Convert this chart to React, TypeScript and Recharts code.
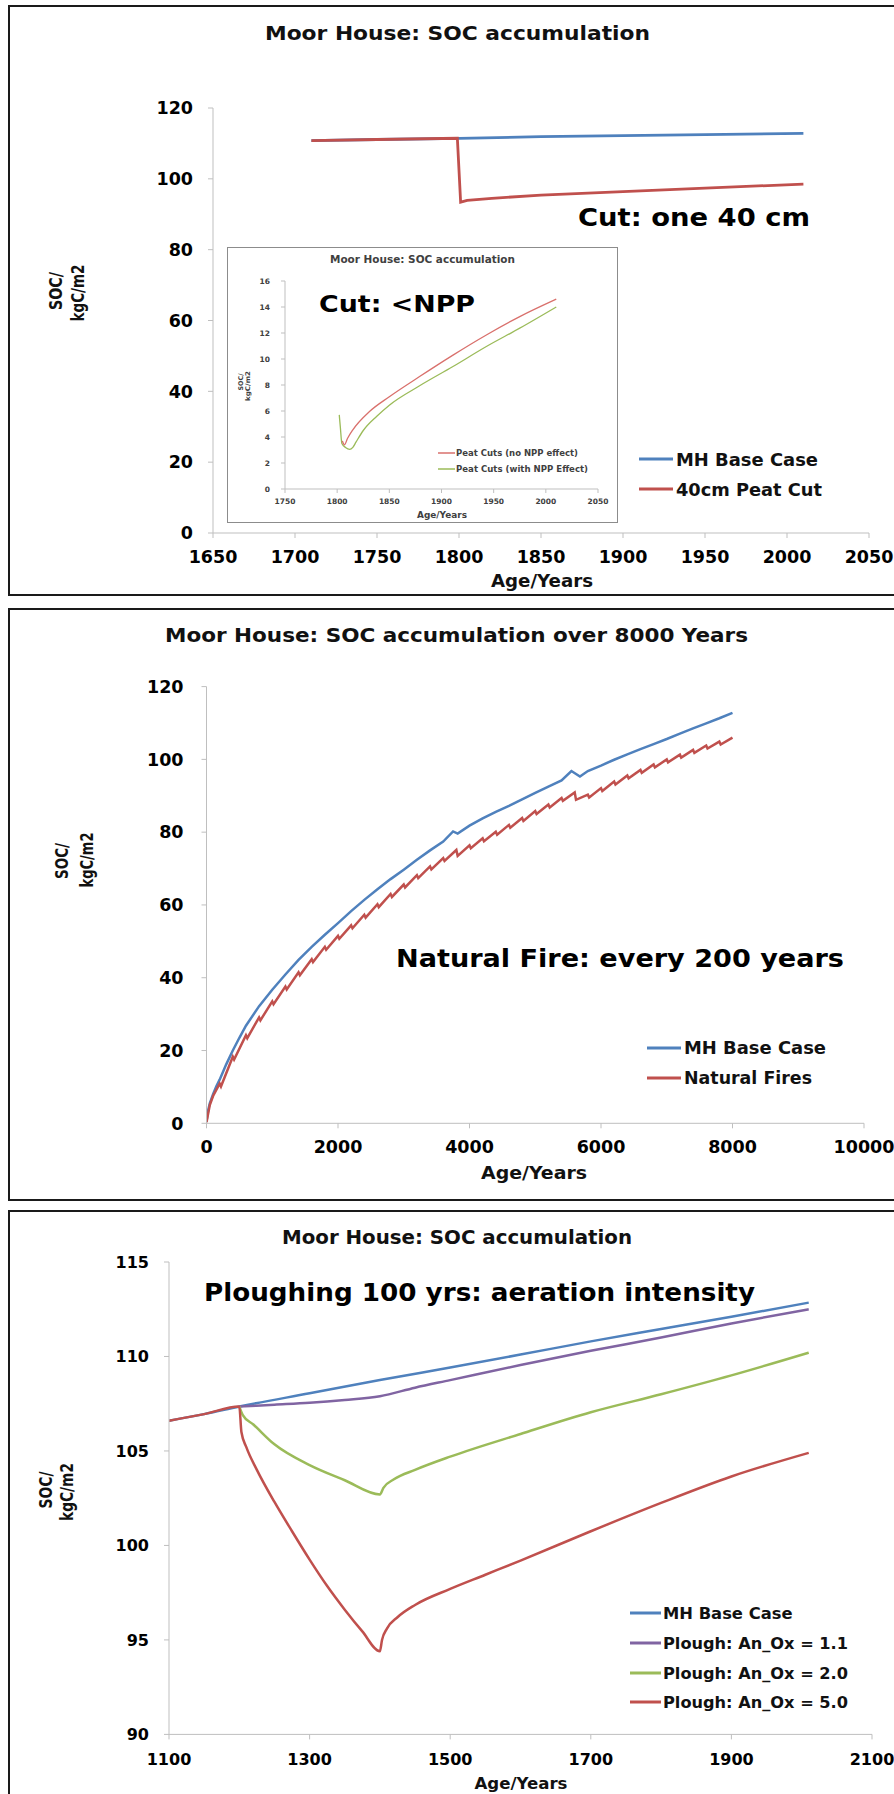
import React from 'react';
import { LineChart, Line, XAxis, YAxis } from 'recharts';

// ---- panel 1: single 40 cm peat cut ----
const cutBaseCase = [[1710, 110.8], [1750, 111.1], [1800, 111.45], [1850, 111.9], [1900, 112.2], [1950, 112.5], [2010, 112.85]];
const cut40cm = [[1710, 110.8], [1750, 111.1], [1799, 111.45], [1801, 93.4], [1805, 93.9], [1820, 94.5], [1850, 95.4], [1900, 96.4], [1950, 97.4], [2010, 98.5]];
const cutXTicks = [1650, 1700, 1750, 1800, 1850, 1900, 1950, 2000, 2050];
const cutYTicks = [0, 20, 40, 60, 80, 100, 120];

// inset: repeated cuts < NPP
const insetNoNpp = [[1805, 3.7], [1807, 3.4], [1810, 3.9], [1815, 4.55], [1831, 5.96], [1850, 7.1], [1879, 8.65], [1911, 10.3], [1943, 11.85], [1975, 13.26], [2010, 14.6]];
const insetWithNpp = [[1802, 5.7], [1803, 4.8], [1804.5, 3.5], [1808, 3.2], [1812, 3.05], [1815, 3.2], [1818, 3.6], [1825, 4.5], [1838, 5.6], [1850, 6.45], [1879, 7.94], [1911, 9.42], [1943, 10.96], [1975, 12.37], [2010, 14.0]];
const insetXTicks = [1750, 1800, 1850, 1900, 1950, 2000, 2050];
const insetYTicks = [0, 2, 4, 6, 8, 10, 12, 14, 16];

// ---- panel 2: 8000 years, natural fires ----
const fireBaseCase = [[0, 0.5], [25, 3.5], [50, 5.5], [100, 8], [150, 10.2], [200, 12.0], [300, 16.2], [400, 20.0], [500, 23.5], [600, 26.8], [800, 32.2], [1000, 36.7], [1200, 40.9], [1400, 44.9], [1600, 48.5], [1800, 51.8], [2000, 55.0], [2200, 58.3], [2400, 61.4], [2600, 64.3], [2800, 67.1], [3000, 69.7], [3200, 72.4], [3400, 75.0], [3600, 77.4], [3750, 80.2], [3820, 79.6], [4000, 81.8], [4200, 83.8], [4400, 85.6], [4600, 87.2], [4800, 89.0], [5000, 90.8], [5200, 92.5], [5400, 94.2], [5550, 96.8], [5680, 95.3], [5800, 96.8], [6000, 98.3], [6200, 99.9], [6400, 101.4], [6600, 102.8], [6800, 104.2], [7000, 105.6], [7200, 107.1], [7400, 108.5], [7600, 109.9], [7800, 111.3], [8000, 112.8]];
const naturalFires = [[0, 0.3], [50, 5], [100, 7.5], [200, 10.9], [220, 10.1], [400, 18.3], [420, 17.5], [600, 24.2], [620, 23.4], [800, 29.1], [820, 28.3], [1000, 33.5], [1020, 32.7], [1200, 37.6], [1220, 36.8], [1400, 41.5], [1420, 40.7], [1600, 45.1], [1620, 44.3], [1800, 48.5], [1820, 47.7], [2000, 51.5], [2020, 50.7], [2200, 54.4], [2220, 53.6], [2400, 57.3], [2420, 56.5], [2600, 60.2], [2620, 59.4], [2800, 63.0], [2820, 62.2], [3000, 65.6], [3020, 64.8], [3200, 68.2], [3220, 67.4], [3400, 70.6], [3420, 69.8], [3600, 72.9], [3620, 72.1], [3800, 75.1], [3820, 73.5], [4000, 76.4], [4020, 75.6], [4200, 78.3], [4220, 77.5], [4400, 80.1], [4420, 79.3], [4600, 82.0], [4620, 81.2], [4800, 83.9], [4820, 83.1], [5000, 85.8], [5020, 85.0], [5200, 87.6], [5220, 86.8], [5400, 89.4], [5420, 88.6], [5600, 90.9], [5620, 88.9], [5800, 90.3], [5820, 89.5], [6000, 92.1], [6020, 91.3], [6200, 93.9], [6220, 93.1], [6400, 95.6], [6420, 94.8], [6600, 97.1], [6620, 96.3], [6800, 98.6], [6820, 97.8], [7000, 100.0], [7020, 99.2], [7200, 101.3], [7220, 100.5], [7400, 102.6], [7420, 101.8], [7600, 103.8], [7620, 103.0], [7800, 104.9], [7820, 104.1], [8000, 106.0]];
const fireXTicks = [0, 2000, 4000, 6000, 8000, 10000];
const fireYTicks = [0, 20, 40, 60, 80, 100, 120];

// ---- panel 3: ploughing 100 years ----
const ploughBaseCase = [[1100, 106.6], [1150, 106.95], [1200, 107.35], [1300, 108.05], [1400, 108.75], [1500, 109.42], [1600, 110.1], [1700, 110.8], [1800, 111.45], [1900, 112.1], [2010, 112.85]];
const ploughOx11 = [[1200, 107.35], [1250, 107.45], [1300, 107.55], [1350, 107.7], [1400, 107.9], [1450, 108.35], [1500, 108.75], [1600, 109.55], [1700, 110.3], [1800, 111.0], [1900, 111.75], [2010, 112.5]];
const ploughOx20 = [[1200, 107.35], [1205, 106.9], [1220, 106.4], [1250, 105.35], [1300, 104.25], [1350, 103.45], [1400, 102.7], [1405, 103.05], [1420, 103.5], [1450, 104.0], [1500, 104.7], [1600, 105.9], [1700, 107.05], [1800, 108.0], [1900, 109.0], [2010, 110.2]];
const ploughOx50 = [[1100, 106.6], [1150, 106.95], [1200, 107.35], [1203, 106.0], [1210, 105.2], [1225, 104.0], [1250, 102.3], [1275, 100.75], [1300, 99.25], [1325, 97.85], [1350, 96.6], [1375, 95.45], [1400, 94.4], [1403, 95.0], [1410, 95.6], [1425, 96.2], [1450, 96.85], [1500, 97.7], [1550, 98.45], [1600, 99.2], [1700, 100.75], [1800, 102.25], [1900, 103.65], [2010, 104.9]];
const ploughXTicks = [1100, 1300, 1500, 1700, 1900, 2100];
const ploughYTicks = [90, 95, 100, 105, 110, 115];

const BLUE = '#4F81BD';
const RED = '#C0504D';
const GREEN = '#9BBB59';
const PURPLE = '#8064A2';
const FONT = "'DejaVu Sans', sans-serif";
const AXIS = '#bfbfbf';

const pts = (arr) => arr.map(([x, y]) => ({ x, y }));

function T({ x, y, len, size, children, anchor = 'start', rot = false, fill = '#111' }) {
  return (
    <text
      x={x}
      y={y}
      fontSize={size}
      fontWeight={700}
      fontFamily={FONT}
      fill={fill}
      textAnchor={anchor}
      textLength={len}
      lengthAdjust="spacingAndGlyphs"
      transform={rot ? `rotate(-90 ${x} ${y})` : undefined}
    >
      {children}
    </text>
  );
}

function Swatch({ x1, x2, y, color, w = 3 }) {
  return <line x1={x1} x2={x2} y1={y} y2={y} stroke={color} strokeWidth={w} />;
}

const tickStyle = (size) => ({ fill: '#000', fontSize: size, fontWeight: 700, fontFamily: FONT });

const panelBox = (top, height) => ({
  position: 'absolute', left: 8, top, width: 900, height,
  border: '2px solid #1a1a1a', borderRight: 'none', boxSizing: 'border-box',
});

export default function App() {
  return (
    <div style={{ position: 'relative', width: 894, height: 1794, overflow: 'hidden', background: '#fff' }}>
      <style>{'body{margin:0}'}</style>
      <div style={panelBox(5, 591)} />
      <div style={panelBox(608, 593)} />
      <div style={panelBox(1210, 600)} />

      {/* panel 1 */}
      <div style={{ position: 'absolute', left: 0, top: 0 }}>
        <LineChart width={920} height={600} margin={{ top: 108, right: 51, bottom: 37, left: 153 }}>
          <XAxis type="number" dataKey="x" domain={[1650, 2050]} ticks={cutXTicks} interval={0} height={30}
            stroke={AXIS} tickSize={5} tickMargin={13} tick={tickStyle(17.5)} allowDataOverflow />
          <YAxis type="number" dataKey="y" domain={[0, 120]} ticks={cutYTicks} interval={0} width={60}
            stroke={AXIS} tickSize={5} tickMargin={15} tick={tickStyle(17.5)} allowDataOverflow />
          <Line data={pts(cutBaseCase)} dataKey="y" stroke={BLUE} strokeWidth={2.8} dot={false} isAnimationActive={false} />
          <Line data={pts(cut40cm)} dataKey="y" stroke={RED} strokeWidth={2.8} dot={false} isAnimationActive={false} />
        </LineChart>
      </div>

      {/* inset */}
      <div style={{ position: 'absolute', left: 227, top: 247, width: 391, height: 276, border: '1px solid #8c8c8c', boxSizing: 'border-box', background: '#fff' }}>
        <LineChart width={389} height={274} margin={{ top: 33, right: 19, bottom: 13, left: 27 }}>
          <XAxis type="number" dataKey="x" domain={[1750, 2050]} ticks={insetXTicks} interval={0} height={20}
            stroke={AXIS} tickSize={4} tickMargin={6} tick={{ ...tickStyle(7.5), fill: '#404040' }} allowDataOverflow />
          <YAxis type="number" dataKey="y" domain={[0, 16]} ticks={insetYTicks} interval={0} width={30}
            stroke={AXIS} tickSize={4} tickMargin={11} tick={{ ...tickStyle(7.5), fill: '#404040' }} allowDataOverflow />
          <Line type="monotone" data={pts(insetWithNpp)} dataKey="y" stroke={GREEN} strokeWidth={1.3} dot={false} isAnimationActive={false} />
          <Line type="monotone" data={pts(insetNoNpp)} dataKey="y" stroke="#D9706C" strokeWidth={1.3} dot={false} isAnimationActive={false} />
        </LineChart>
      </div>

      {/* panel 2 */}
      <div style={{ position: 'absolute', left: 0, top: 600 }}>
        <LineChart width={920} height={600} margin={{ top: 86.6, right: 56, bottom: 46.7, left: 146.5 }}>
          <XAxis type="number" dataKey="x" domain={[0, 10000]} ticks={fireXTicks} interval={0} height={30}
            stroke={AXIS} tickSize={5} tickMargin={12} tick={tickStyle(17.5)} allowDataOverflow />
          <YAxis type="number" dataKey="y" domain={[0, 120]} ticks={fireYTicks} interval={0} width={60}
            stroke={AXIS} tickSize={5} tickMargin={18} tick={tickStyle(17.5)} allowDataOverflow />
          <Line data={pts(fireBaseCase)} dataKey="y" stroke={BLUE} strokeWidth={2.5} dot={false} isAnimationActive={false} />
          <Line data={pts(naturalFires)} dataKey="y" stroke={RED} strokeWidth={2.5} dot={false} isAnimationActive={false} />
        </LineChart>
      </div>

      {/* panel 3 */}
      <div style={{ position: 'absolute', left: 0, top: 1200 }}>
        <LineChart width={920} height={594} margin={{ top: 62, right: 48, bottom: 29.6, left: 109 }}>
          <XAxis type="number" dataKey="x" domain={[1100, 2100]} ticks={ploughXTicks} interval={0} height={30}
            stroke={AXIS} tickSize={5} tickMargin={14} tick={tickStyle(16)} allowDataOverflow />
          <YAxis type="number" dataKey="y" domain={[90, 115]} ticks={ploughYTicks} interval={0} width={60}
            stroke={AXIS} tickSize={5} tickMargin={15} tick={tickStyle(16)} allowDataOverflow />
          <Line type="monotone" data={pts(ploughBaseCase)} dataKey="y" stroke={BLUE} strokeWidth={2.5} dot={false} isAnimationActive={false} />
          <Line type="monotone" data={pts(ploughOx11)} dataKey="y" stroke={PURPLE} strokeWidth={2.5} dot={false} isAnimationActive={false} />
          <Line type="monotone" data={pts(ploughOx20)} dataKey="y" stroke={GREEN} strokeWidth={2.5} dot={false} isAnimationActive={false} />
          <Line type="monotone" data={pts(ploughOx50)} dataKey="y" stroke={RED} strokeWidth={2.5} dot={false} isAnimationActive={false} />
        </LineChart>
      </div>

      {/* titles, axis labels, legends, notes */}
      <svg width={894} height={1794} style={{ position: 'absolute', left: 0, top: 0, pointerEvents: 'none' }}>
        {/* panel 1 */}
        <T x={265} y={40} len={385} size={20}>Moor House: SOC accumulation</T>
        <T x={578} y={226} len={232} size={24} fill="#000">Cut: one 40 cm</T>
        <Swatch x1={639} x2={673} y={459} color={BLUE} />
        <T x={676} y={466} len={142} size={17}>MH Base Case</T>
        <Swatch x1={639} x2={673} y={489} color={RED} />
        <T x={676} y={495.5} len={146} size={17}>40cm Peat Cut</T>
        <T x={542} y={587} len={102} size={18} anchor="middle">Age/Years</T>
        <T x={62} y={291} len={38} size={17} anchor="middle" rot>SOC/</T>
        <T x={84} y={293} len={57} size={17} anchor="middle" rot>kgC/m2</T>

        {/* inset */}
        <T x={330} y={263} len={185} size={10.5} fill="#404040">Moor House: SOC accumulation</T>
        <T x={319} y={311.5} len={156} size={23} fill="#000">Cut: &lt;NPP</T>
        <Swatch x1={438} x2={455} y={453} color="#D9706C" w={1.5} />
        <T x={456} y={456} len={122} size={8.5} fill="#404040">Peat Cuts (no NPP effect)</T>
        <Swatch x1={438} x2={455} y={469} color={GREEN} w={1.5} />
        <T x={456} y={472} len={132} size={8.5} fill="#404040">Peat Cuts (with NPP Effect)</T>
        <T x={442} y={518} len={50} size={8.5} anchor="middle" fill="#404040">Age/Years</T>
        <T x={243} y={382} len={17} size={6.5} anchor="middle" rot fill="#404040">SOC/</T>
        <T x={250} y={386} len={30} size={6.5} anchor="middle" rot fill="#404040">kgC/m2</T>

        {/* panel 2 */}
        <T x={165} y={642} len={583} size={20}>Moor House: SOC accumulation over 8000 Years</T>
        <T x={396} y={967} len={448} size={24} fill="#000">Natural Fire: every 200 years</T>
        <Swatch x1={647} x2={681} y={1048} color={BLUE} />
        <T x={684} y={1054} len={142} size={17}>MH Base Case</T>
        <Swatch x1={647} x2={681} y={1078} color={RED} />
        <T x={684} y={1084} len={128} size={17}>Natural Fires</T>
        <T x={534} y={1179} len={106} size={18} anchor="middle">Age/Years</T>
        <T x={68} y={861} len={36} size={17} anchor="middle" rot>SOC/</T>
        <T x={93} y={860} len={55} size={17} anchor="middle" rot>kgC/m2</T>

        {/* panel 3 */}
        <T x={282} y={1244} len={350} size={19}>Moor House: SOC accumulation</T>
        <T x={204} y={1301} len={551} size={25} fill="#000">Ploughing 100 yrs: aeration intensity</T>
        <Swatch x1={630} x2={661} y={1613} color={BLUE} />
        <T x={663} y={1619} len={129.5} size={16}>MH Base Case</T>
        <Swatch x1={630} x2={661} y={1643} color={PURPLE} />
        <T x={663} y={1649} len={185} size={16}>Plough: An_Ox = 1.1</T>
        <Swatch x1={630} x2={661} y={1673} color={GREEN} />
        <T x={663} y={1679} len={185} size={16}>Plough: An_Ox = 2.0</T>
        <Swatch x1={630} x2={661} y={1702} color={RED} />
        <T x={663} y={1708} len={185} size={16}>Plough: An_Ox = 5.0</T>
        <T x={521} y={1789} len={93} size={16} anchor="middle">Age/Years</T>
        <T x={52} y={1490} len={37} size={17} anchor="middle" rot>SOC/</T>
        <T x={73} y={1492} len={58} size={17} anchor="middle" rot>kgC/m2</T>
      </svg>
    </div>
  );
}
